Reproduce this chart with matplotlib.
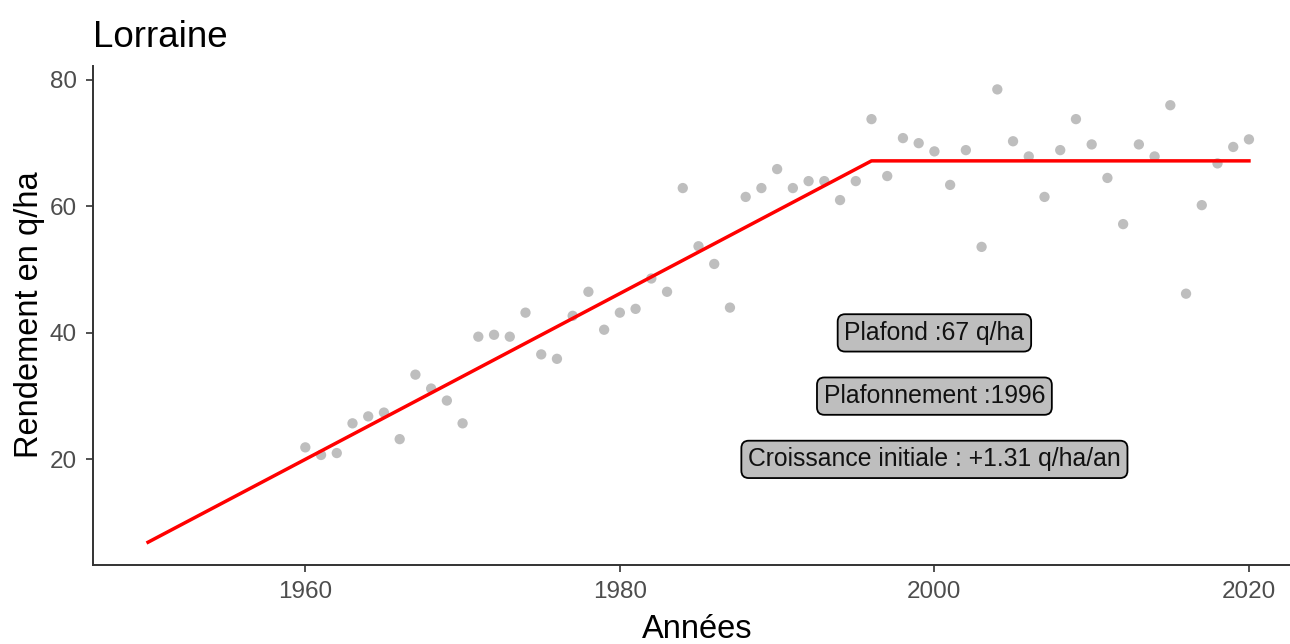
import numpy as np
import matplotlib
matplotlib.use('Agg')
import matplotlib.pyplot as plt

plt.rcParams['font.family'] = ['Liberation Sans', 'DejaVu Sans']

# observed yields (q/ha), Lorraine
years = np.arange(1960, 2021)
yields = [21.9, 20.7, 21.0, 25.7, 26.8, 27.4, 23.2, 33.4, 31.2, 29.3,
          25.7, 39.4, 39.7, 39.4, 43.2, 36.6, 35.9, 42.7, 46.5, 40.5,
          43.2, 43.8, 48.6, 46.5, 62.9, 53.7, 50.9, 44.0, 61.5, 62.9,
          65.9, 62.9, 64.0, 64.0, 61.0, 64.0, 73.8, 64.8, 70.8, 70.0,
          68.7, 63.4, 68.9, 53.6, 78.5, 70.3, 67.9, 61.5, 68.9, 73.8,
          69.8, 64.5, 57.2, 69.8, 67.9, 76.0, 46.2, 60.2, 66.8, 69.4,
          70.6]

# fitted plateau model: knots
fit_years = [1950, 1996, 2020]
fit_vals = [6.9, 67.2, 67.2]

labels = ['Plafond :67 q/ha', 'Plafonnement :1996',
          'Croissance initiale : +1.31 q/ha/an']
label_x = [2000, 2000, 2000]
label_y = [40, 30, 20]

fig = plt.figure(figsize=(12.9, 6.44), dpi=100)
ax = fig.add_axes([93/1290, 79/644, 1211/1290, 499/644])

ax.scatter(years, yields, s=55, color='#bebebe', edgecolors='none', zorder=2)
ax.plot(fit_years, fit_vals, color='red', lw=2.5, zorder=3)

for t, x, y in zip(labels, label_x, label_y):
    ax.text(x, y, t, ha='center', va='center', fontsize=17.8, color='#111111',
            bbox=dict(boxstyle='round,pad=0.27,rounding_size=0.3',
                      fc='#bebebe', ec='black', lw=1.3), zorder=4)

ax.set_xlim(1946.5, 2023.5)
ax.set_ylim(3.3, 82.2)
ax.set_xticks([1960, 1980, 2000, 2020])
ax.set_yticks([20, 40, 60, 80])

for s in ['top', 'right']:
    ax.spines[s].set_visible(False)
for s in ['left', 'bottom']:
    ax.spines[s].set_color('#333333')
    ax.spines[s].set_linewidth(1.4)
ax.tick_params(colors='#333333', width=1.2, length=5, labelsize=17.5, pad=6.5,
               labelcolor='#4d4d4d')

fig.text(93/1290, (644-47)/644, 'Lorraine', fontsize=26.5, va='baseline', ha='left')
fig.text(30/1290, (644-315)/644, 'Rendement en q/ha', fontsize=23.5,
         rotation=90, va='center', ha='center')
fig.text(697/1290, 6/644, 'Années', fontsize=23.5, va='baseline', ha='center')

plt.savefig('out.png', dpi=100)
